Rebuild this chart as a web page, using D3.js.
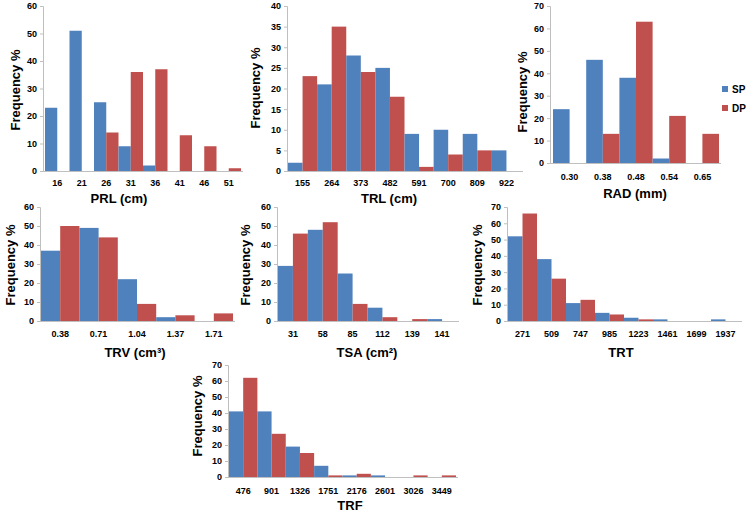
<!DOCTYPE html>
<html>
<head>
<meta charset="utf-8">
<script src="https://cdn.jsdelivr.net/npm/d3@7"></script>
<style>
  html, body { margin: 0; padding: 0; background: #fff; }
  svg text { font-family: "Liberation Sans", Arial, sans-serif; font-weight: bold; fill: #000; }
</style>
</head>
<body>
<svg id="chart" width="750" height="514"></svg>
<script>
// ---- data ----
const series = ["SP", "DP"];
const colors = ["#4F81BD", "#C0504D"];

const prlCats = ["16","21","26","31","36","41","46","51"];
const prlSP = [23,51,25,9,2,0,0,0];
const prlDP = [0,0,14,36,37,13,9,1];

const trlCats = ["155","264","373","482","591","700","809","922"];
const trlSP = [2,21,28,25,9,10,9,5];
const trlDP = [23,35,24,18,1,4,5,0];

const radCats = ["0.30","0.38","0.48","0.54","0.65"];
const radSP = [24,46,38,2,0];
const radDP = [0,13,63,21,13];

const trvCats = ["0.38","0.71","1.04","1.37","1.71"];
const trvSP = [37,49,22,2,0];
const trvDP = [50,44,9,3,4];

const tsaCats = ["31","58","85","112","139","141"];
const tsaSP = [29,48,25,7,0,1];
const tsaDP = [46,52,9,2,1,0];

const trtCats = ["271","509","747","985","1223","1461","1699","1937"];
const trtSP = [52,38,11,5,2,1,0,1];
const trtDP = [66,26,13,4,1,0,0,0];

const trfCats = ["476","901","1326","1751","2176","2601","3026","3449"];
const trfSP = [41,41,19,7,1,1,0,0];
const trfDP = [62,27,15,1,2,0,1,1];

const yMaxes = [60, 40, 70, 60, 60, 70, 70];
const yStepSizes = [10, 5, 10, 10, 10, 10, 10];
const titles = ["PRL (cm)", "TRL (cm)", "RAD (mm)", "TRV (cm³)", "TSA (cm²)", "TRT", "TRF"];
const yLabel = "Frequency %";

// ---- layout ----
const layouts = [
  {ax:43,  x0:45,  x1:241, yTop:6,   yBot:171, lab:186, tx:119, ty:203, fx:15,  fy:90},
  {ax:287, x0:288, x1:521, yTop:6,   yBot:171, lab:186, tx:389, ty:203, fx:255, fy:88},
  {ax:550, x0:553, x1:719, yTop:6,   yBot:163, lab:180, tx:635, ty:198, fx:522, fy:92},
  {ax:40,  x0:41,  x1:233, yTop:207, yBot:321, lab:337, tx:135, ty:357, fx:10,  fy:265},
  {ax:277, x0:278, x1:457, yTop:207, yBot:321, lab:337, tx:367, ty:357, fx:245, fy:265},
  {ax:507, x0:508, x1:740, yTop:207, yBot:321, lab:337, tx:621, ty:357, fx:477, fy:265},
  {ax:228, x0:229, x1:456, yTop:365, yBot:477, lab:494, tx:350, ty:510, fx:197, fy:416}
];

const datasets = [
  [prlCats, prlSP, prlDP], [trlCats, trlSP, trlDP], [radCats, radSP, radDP],
  [trvCats, trvSP, trvDP], [tsaCats, tsaSP, tsaDP], [trtCats, trtSP, trtDP],
  [trfCats, trfSP, trfDP]
];

const svg = d3.select("#chart");

datasets.forEach(([cats, sp, dp], i) => {
  const L = layouts[i];
  const g = svg.append("g");
  const x = d3.scaleBand().domain(cats).range([L.x0, L.x1]).paddingInner(0).paddingOuter(0);
  const xi = d3.scaleBand().domain(series).range([0, x.bandwidth()]).padding(0);
  const y = d3.scaleLinear().domain([0, yMaxes[i]]).range([L.yBot, L.yTop]);
  const rows = cats.map((c, k) => ({cat: c, vals: [sp[k], dp[k]]}));

  // bars
  const grp = g.selectAll("g.cat").data(rows).enter().append("g")
    .attr("transform", d => `translate(${x(d.cat)},0)`);
  grp.selectAll("rect").data(d => d.vals.map((v, s) => ({s: series[s], v, c: colors[s]})))
    .enter().append("rect")
    .attr("x", d => xi(d.s))
    .attr("width", xi.bandwidth())
    .attr("y", d => y(d.v))
    .attr("height", d => L.yBot - y(d.v))
    .attr("fill", d => d.c);

  // y axis
  const yAxis = d3.axisLeft(y)
    .tickValues(d3.range(0, yMaxes[i] + 0.001, yStepSizes[i]))
    .tickSize(3).tickPadding(3).tickFormat(d3.format("d"));
  const ya = g.append("g").attr("transform", `translate(${L.ax},0)`).call(yAxis);
  ya.select(".domain").attr("stroke", "#bfbfbf");
  ya.selectAll(".tick line").attr("stroke", "#bfbfbf");
  ya.selectAll(".tick text").style("font-size", "9px").style("font-weight", "bold")
    .style("font-family", "'Liberation Sans', Arial, sans-serif");

  // x axis
  const xAxis = d3.axisBottom(x).tickSize(0).tickPadding(0);
  const xa = g.append("g").attr("transform", `translate(0,${L.yBot})`).call(xAxis);
  xa.select(".domain").remove();
  xa.selectAll(".tick text").attr("y", L.lab - L.yBot).attr("dy", 0)
    .style("font-size", "9px").style("font-weight", "bold")
    .style("font-family", "'Liberation Sans', Arial, sans-serif");
  g.append("line")
    .attr("x1", L.ax).attr("x2", L.x1 + 2)
    .attr("y1", L.yBot + 0.5).attr("y2", L.yBot + 0.5)
    .attr("stroke", "#bfbfbf");

  // titles
  g.append("text").attr("x", L.tx).attr("y", L.ty).attr("text-anchor", "middle")
    .style("font-size", "13px").text(titles[i]);
  g.append("text")
    .attr("transform", `translate(${L.fx + 5},${L.fy}) rotate(-90)`)
    .attr("text-anchor", "middle")
    .style("font-size", "13px").text(yLabel);
});

// legend
const legend = svg.append("g");
series.forEach((s, k) => {
  const ly = 89 + k * 19;
  legend.append("rect").attr("x", 722).attr("y", ly - 3).attr("width", 6).attr("height", 6).attr("fill", colors[k]);
  legend.append("text").attr("x", 732).attr("y", ly + 4).style("font-size", "10px").text(s);
});
</script>
</body>
</html>
